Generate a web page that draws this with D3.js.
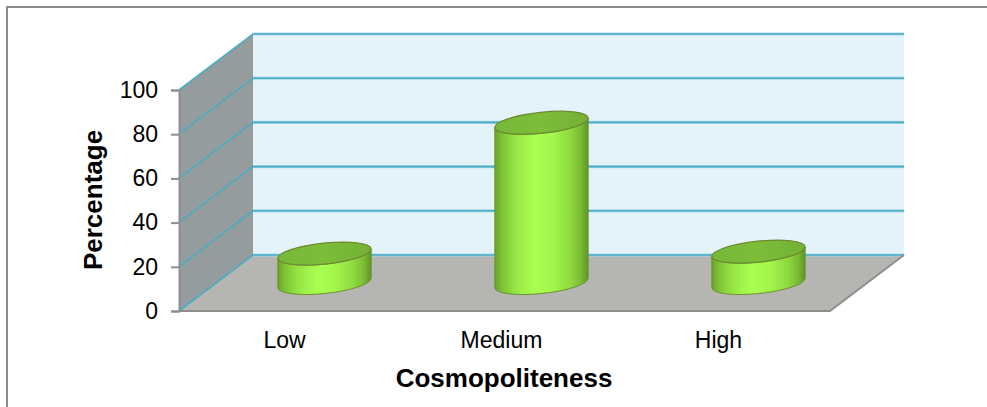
<!DOCTYPE html>
<html>
<head>
<meta charset="utf-8">
<script src="https://cdn.jsdelivr.net/npm/d3@7"></script>
<style>
  html, body { margin: 0; padding: 0; background: #fff; }
  svg { display: block; }
  text { font-family: Arial, "Liberation Sans", sans-serif; fill: #000; }
</style>
</head>
<body>
<svg id="chart" width="987" height="407"></svg>
<script>
// Share of respondents by level of cosmopoliteness
const categories = ["Low", "Medium", "High"];
const values = [13.3, 72.5, 14.2];
const yTicks = [0, 20, 40, 60, 80, 100];
const xTitle = "Cosmopoliteness";
const yTitle = "Percentage";

const svg = d3.select("#chart");

// Front plane of the 3-D box and its depth offset
const frontLeft = 179, frontRight = 830;
const frontBottom = 311, frontTop = 90;
const depth = { dx: 74, dy: -56 };

const x = d3.scaleBand().domain(categories).range([frontLeft, frontRight]).padding(0);
const y = d3.scaleLinear().domain([0, 100]).range([frontBottom, frontTop]);

// Chart-area border
svg.append("rect")
  .attr("x", 7).attr("y", 7).attr("width", 1000).attr("height", 420)
  .attr("fill", "#fff").attr("stroke", "#8c8c8c").attr("stroke-width", 2);

const box = svg.append("g");
const back = (px, py) => [px + depth.dx, py + depth.dy];

// Back wall
box.append("rect")
  .attr("x", frontLeft + depth.dx).attr("y", y(100) + depth.dy)
  .attr("width", frontRight - frontLeft)
  .attr("height", y(0) - y(100))
  .attr("fill", "#e4f3f9");

// Side wall
const sidePts = [[frontLeft, y(0)], [frontLeft, y(100)], back(frontLeft, y(100)), back(frontLeft, y(0))];
box.append("polygon")
  .attr("points", sidePts.map(p => p.join(",")).join(" "))
  .attr("fill", "#959c9e");

// Floor
const floorPts = [[frontLeft, y(0)], back(frontLeft, y(0)), back(frontRight, y(0)), [frontRight, y(0)]];
box.append("polygon")
  .attr("points", floorPts.map(p => p.join(",")).join(" "))
  .attr("fill", "#b5b6b2");

// Gridlines on the side and back walls
const grid = box.append("g");
yTicks.forEach(t => {
  const p0 = [frontLeft, y(t)], p1 = back(frontLeft, y(t)), p2 = back(frontRight, y(t));
  grid.append("path").attr("d", `M${p1}L${p2}`).attr("fill", "none")
    .attr("stroke", "#a9d9e7").attr("stroke-width", 3.2);
  grid.append("path").attr("d", `M${p0}L${p1}L${p2}`).attr("fill", "none")
    .attr("stroke", "#4aabc5").attr("stroke-width", 1.6);
});

// Floor edges
box.append("path")
  .attr("d", `M${frontLeft},${y(0)}L${frontRight},${y(0)}L${back(frontRight, y(0))}`)
  .attr("fill", "none").attr("stroke", "#8e8e8e").attr("stroke-width", 2);

// Value axis
const yAxis = d3.axisLeft(y).tickValues(yTicks).tickSize(8).tickPadding(13);
const axisG = svg.append("g")
  .attr("transform", `translate(${frontLeft},0)`)
  .call(yAxis);
axisG.select(".domain").attr("stroke", "#8e8e8e").attr("stroke-width", 2);
axisG.selectAll(".tick line").attr("stroke", "#8e8e8e").attr("stroke-width", 2);
axisG.selectAll(".tick text")
  .style("font-family", "Arial, 'Liberation Sans', sans-serif")
  .attr("font-size", 23).attr("fill", "#000");

// Category labels
svg.append("g").selectAll("text")
  .data(categories)
  .join("text")
  .attr("x", d => x(d) + x.bandwidth() / 2 - 3)
  .attr("y", 348)
  .attr("text-anchor", "middle")
  .attr("font-size", 23)
  .text(d => d);

// Axis titles
svg.append("text")
  .attr("x", 504).attr("y", 387)
  .attr("text-anchor", "middle")
  .attr("font-size", 26).attr("font-weight", "bold")
  .text(xTitle);

svg.append("text")
  .attr("transform", "translate(102,200) rotate(-90)")
  .attr("text-anchor", "middle")
  .attr("font-size", 26).attr("font-weight", "bold")
  .text(yTitle);

// Cylinders
const defs = svg.append("defs");
const grad = defs.append("linearGradient").attr("id", "cylSide")
  .attr("x1", "0%").attr("x2", "100%").attr("y1", "0%").attr("y2", "0%");
[
  [0, "#69a42a"], [0.08, "#7fc436"], [0.22, "#97e544"], [0.42, "#a9ff51"],
  [0.62, "#a2f64c"], [0.82, "#8ed83f"], [0.93, "#78b832"], [1, "#5f9425"]
].forEach(([o, c]) => grad.append("stop").attr("offset", o).attr("stop-color", c));

const topGrad = defs.append("linearGradient").attr("id", "cylTop")
  .attr("x1", "0%").attr("x2", "100%").attr("y1", "0%").attr("y2", "0%");
[[0, "#78b838"], [0.5, "#7dbd3a"], [1, "#73b034"]]
  .forEach(([o, c]) => topGrad.append("stop").attr("offset", o).attr("stop-color", c));

const rx = x.bandwidth() * 0.216, ry = 10.5, tilt = -6; // ellipse shape (deg)
const th = tilt * Math.PI / 180;
// Points where the rotated ellipse has vertical tangents
const t0 = Math.atan2(-ry * Math.sin(th), rx * Math.cos(th));
const ept = t => [rx * Math.cos(t) * Math.cos(th) - ry * Math.sin(t) * Math.sin(th),
                  rx * Math.cos(t) * Math.sin(th) + ry * Math.sin(t) * Math.cos(th)];
const tA = ept(t0), tB = ept(t0 + Math.PI);
const leftT = tA[0] < tB[0] ? tA : tB;
const rightT = tA[0] < tB[0] ? tB : tA;

const bars = svg.append("g");
categories.forEach((c, i) => {
  const cx = x(c) + x.bandwidth() / 2 + depth.dx / 2;
  const yb = y(0) + depth.dy / 2;
  const yt = y(values[i]) + depth.dy / 2;
  const side = `M${cx + leftT[0]},${yt + leftT[1]}` +
    `L${cx + leftT[0]},${yb + leftT[1]}` +
    `A${rx},${ry} ${tilt} 0 0 ${cx + rightT[0]},${yb + rightT[1]}` +
    `L${cx + rightT[0]},${yt + rightT[1]}` +
    `A${rx},${ry} ${tilt} 0 1 ${cx + leftT[0]},${yt + leftT[1]}Z`;
  bars.append("path").attr("d", side)
    .attr("fill", "url(#cylSide)")
    .attr("stroke", "#6c9130").attr("stroke-width", 1);
  bars.append("ellipse")
    .attr("cx", 0).attr("cy", 0).attr("rx", rx).attr("ry", ry)
    .attr("transform", `translate(${cx},${yt}) rotate(${tilt})`)
    .attr("fill", "url(#cylTop)")
    .attr("stroke", "#6c8a30").attr("stroke-width", 1.2);
});
</script>
</body>
</html>
